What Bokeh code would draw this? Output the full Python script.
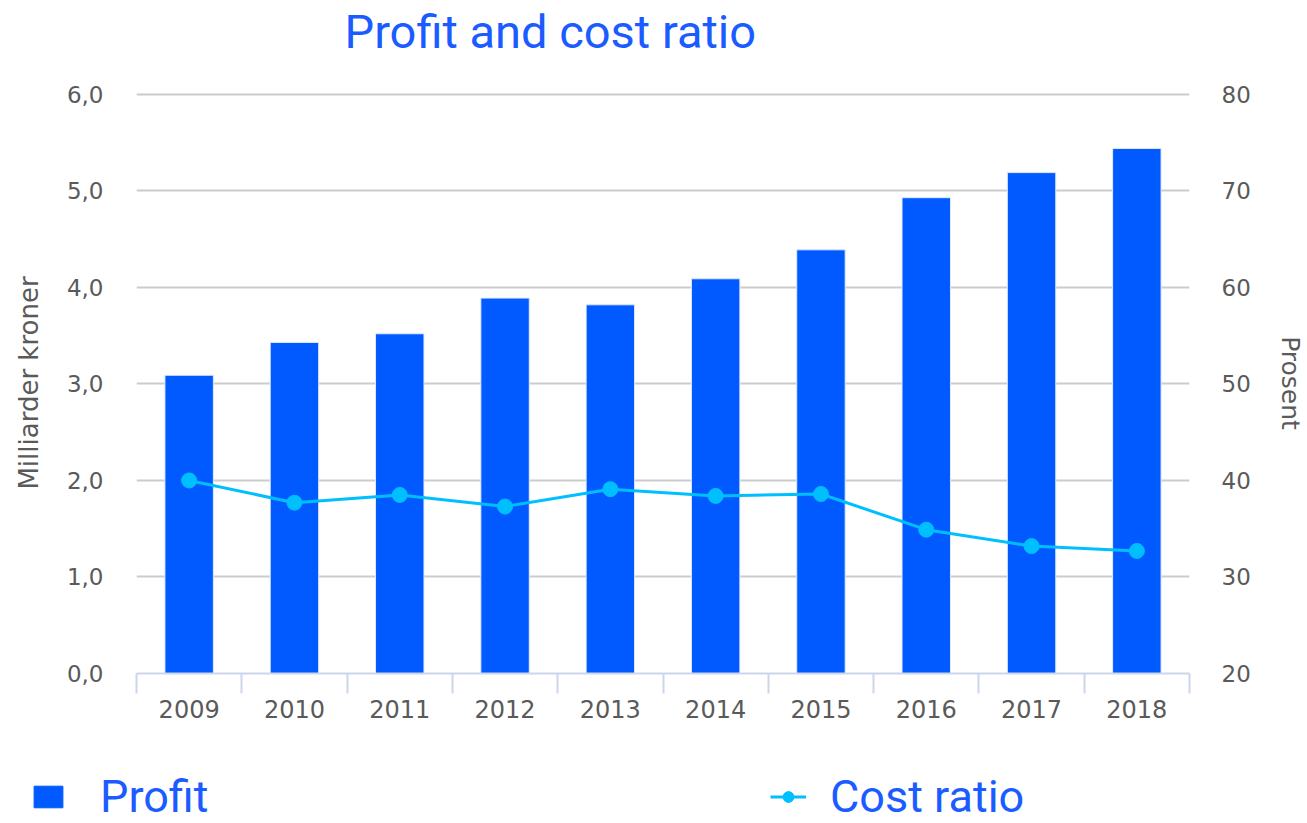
from bokeh.plotting import figure
from bokeh.models import Range1d, LinearAxis, FixedTicker, Legend, LegendItem, Label
from bokeh.embed import file_html
from bokeh.resources import INLINE

years = ["2009", "2010", "2011", "2012", "2013", "2014", "2015", "2016", "2017", "2018"]
profit = [3.09, 3.43, 3.52, 3.89, 3.82, 4.09, 4.39, 4.93, 5.19, 5.44]
cost_ratio = [40.0, 37.7, 38.5, 37.3, 39.1, 38.4, 38.6, 34.9, 33.2, 32.7]
left_ticks = [0, 1, 2, 3, 4, 5, 6]
left_tick_labels = ["0,0", "1,0", "2,0", "3,0", "4,0", "5,0", "6,0"]
right_ticks = [20, 30, 40, 50, 60, 70, 80]

BAR = "#005AFF"
LINE = "#00BFFF"
TXT = "#5a5a5a"
BLUE_TXT = "#1a5cff"
AXC = "#ccd6eb"
W = 1307
TITLE_H = 60
LEG_H = 63
MAIN_H = 823 - TITLE_H - LEG_H

n = len(years)
xpos = [i + 0.5 for i in range(n)]
bounds = [float(i) for i in range(n + 1)]
pad = 0.02  # small headroom so the top gridline is not clipped


def blank_fig(h, yr=(0, 1)):
    f = figure(width=W, height=h, output_backend="svg", toolbar_location=None,
               x_range=Range1d(0, n), y_range=Range1d(*yr),
               x_axis_location=None, y_axis_location=None, min_border=0)
    f.outline_line_color = None
    f.grid.visible = False
    return f


# ---- title strip ----
pt = blank_fig(TITLE_H)
pt.add_layout(Label(x=344, y=29, x_units="screen", y_units="screen",
                    text="Profit and cost ratio", text_align="left", text_baseline="middle",
                    text_font="Roboto", text_font_size="47px", text_color=BLUE_TXT))

# ---- main chart ----
p = figure(width=W, height=MAIN_H, output_backend="svg", toolbar_location=None,
           x_range=Range1d(0, n), y_range=Range1d(left_ticks[0], left_ticks[-1] + pad),
           min_border_left=136, min_border_right=117, min_border_top=92 - TITLE_H,
           min_border_bottom=MAIN_H - (673 - TITLE_H))
p.outline_line_color = None
p.extra_y_ranges = {"right": Range1d(right_ticks[0], right_ticks[-1] + pad * 10)}

xa = p.xaxis[0]
xa.ticker = FixedTicker(ticks=xpos, minor_ticks=bounds)
xa.major_label_overrides = {x: y for x, y in zip(xpos, years)}
xa.major_tick_out = 0
xa.major_tick_in = 0
xa.minor_tick_out = 20
xa.minor_tick_in = 0
xa.minor_tick_line_color = AXC
xa.minor_tick_line_width = 2
xa.axis_line_color = AXC
xa.axis_line_width = 2
xa.major_label_standoff = 6
xa.major_label_text_font = "DejaVu Sans"
xa.major_label_text_font_size = "24px"
xa.major_label_text_color = TXT

ya = p.yaxis[0]
ya.ticker = FixedTicker(ticks=left_ticks)
ya.major_label_overrides = {t: l for t, l in zip(left_ticks, left_tick_labels)}
ya.axis_line_color = None
ya.major_tick_line_color = None
ya.minor_tick_line_color = None
ya.major_tick_out = 0
ya.minor_tick_out = 0
ya.major_label_standoff = 33
ya.major_label_text_font = "DejaVu Sans"
ya.major_label_text_font_size = "23px"
ya.major_label_text_color = TXT
ya.axis_label = "Milliarder kroner"
ya.axis_label_text_font = "DejaVu Sans"
ya.axis_label_text_font_size = "26px"
ya.axis_label_text_font_style = "normal"
ya.axis_label_text_color = TXT
ya.axis_label_standoff = 20

ra = LinearAxis(y_range_name="right", ticker=FixedTicker(ticks=right_ticks))
ra.axis_line_color = None
ra.major_tick_line_color = None
ra.minor_tick_line_color = None
ra.major_tick_out = 0
ra.minor_tick_out = 0
ra.major_label_standoff = 32
ra.major_label_text_font = "DejaVu Sans"
ra.major_label_text_font_size = "23px"
ra.major_label_text_color = TXT
ra.axis_label = "Prosent"
ra.axis_label_text_font = "DejaVu Sans"
ra.axis_label_text_font_size = "25px"
ra.axis_label_text_font_style = "normal"
ra.axis_label_text_color = TXT
ra.axis_label_standoff = 22
p.add_layout(ra, "right")

p.xgrid.visible = False
p.ygrid.ticker = FixedTicker(ticks=left_ticks)
p.ygrid.grid_line_color = "#cccccc"
p.ygrid.grid_line_width = 2

p.vbar(x=xpos, top=profit, width=0.46, fill_color=BAR, line_color="#dfe8ff", line_width=1)
p.line(x=xpos, y=cost_ratio, y_range_name="right", line_color=LINE, line_width=3)
p.scatter(x=xpos, y=cost_ratio, y_range_name="right", size=15, fill_color=LINE, line_color=LINE)

# ---- legend strip (same series, drawn out of view; only their legend keys show) ----
pl = blank_fig(LEG_H, yr=(1000, 1001))
lb = pl.vbar(x=xpos, top=profit, width=0.46, fill_color=BAR, line_color=BAR, line_width=1)
ll = pl.line(x=xpos, y=cost_ratio, line_color=LINE, line_width=3)
ls = pl.scatter(x=xpos, y=cost_ratio, size=15, fill_color=LINE, line_color=LINE)


def mk_legend(items, loc, standoff):
    return Legend(items=items, location=loc, padding=0, margin=0, spacing=0,
                  glyph_width=36, glyph_height=27, label_standoff=standoff,
                  label_text_font="Roboto", label_text_font_size="45px",
                  label_text_color=BLUE_TXT, border_line_alpha=0, background_fill_alpha=0)


pl.add_layout(mk_legend([LegendItem(label="Profit", renderers=[lb])], (30, 0), 34))
pl.add_layout(mk_legend([LegendItem(label="Cost ratio", renderers=[ll, ls])], (770, 0), 24))

open("out.html", "w").write(file_html([pt, p, pl], INLINE))
